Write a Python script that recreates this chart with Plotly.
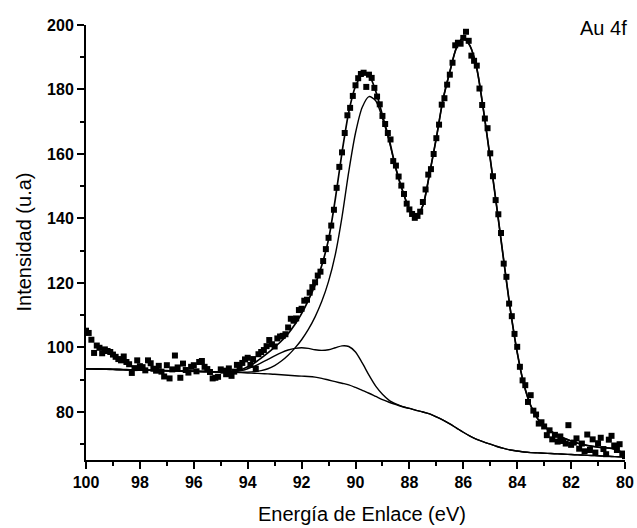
import numpy as np
import plotly.graph_objects as go

# Measured Au 4f spectrum: binding energy (eV) from 100.0 down to 80.0 in 0.1 eV steps
energy_data = np.round(np.arange(100.0, 79.95, -0.1), 1)
counts = [
    105.2, 104.5, 102.4, 98.3, 100.6, 99.9, 98.2, 99.4, 98.9, 98.6,
    97.8, 97.1, 96.4, 96.0, 97.2, 95.5, 94.8, 92.1, 93.6, 96.0,
    94.2, 93.9, 92.9, 96.0, 95.1, 93.4, 92.8, 94.3, 92.5, 91.0,
    94.5, 90.4, 93.2, 97.5, 93.8, 90.6, 95.0, 93.0, 92.2, 94.0,
    94.5, 92.6, 95.5, 95.8, 94.0, 93.3, 92.4, 90.4, 90.6, 90.9,
    93.2, 92.8, 91.7, 93.5, 91.2, 92.5, 94.6, 93.8, 95.2, 96.3,
    96.8, 94.6, 96.4, 93.4, 97.9, 98.6, 99.2, 100.4, 102.3, 101.0,
    100.3, 102.8, 103.4, 103.6, 104.1, 106.2, 108.9, 108.3, 109.0, 111.6,
    112.0, 114.5, 114.8, 117.0, 118.7, 120.2, 122.3, 123.5, 126.8, 130.5,
    134.0, 137.8, 142.7, 149.5, 156.0, 160.5, 166.5, 172.0, 174.3, 178.0,
    181.3, 183.5, 184.8, 185.2, 180.8, 184.6, 183.6, 180.5, 177.8, 175.4,
    171.8, 169.3, 166.5, 164.5, 157.8, 156.4, 153.0, 150.2, 147.6, 144.6,
    142.8, 141.4, 140.2, 140.8, 142.1, 145.1, 149.0, 153.6, 155.3, 160.0,
    164.9, 169.1, 175.3, 177.3, 181.5, 184.6, 188.3, 193.7, 194.5, 194.2,
    196.0, 197.9, 195.1, 190.5, 188.9, 187.4, 180.3, 175.2, 171.0, 168.0,
    160.2, 153.1, 145.7, 141.3, 135.5, 126.0, 121.9, 113.6, 109.7, 104.2,
    100.2, 94.0, 89.8, 88.3, 83.1, 85.2, 80.4, 79.2, 76.4, 76.8,
    75.5, 72.8, 74.3, 71.5, 72.9, 70.8, 72.4, 71.0, 70.2, 75.9,
    69.8, 70.5, 71.8, 68.6, 70.2, 67.8, 73.0, 68.2, 71.5, 67.4,
    70.3, 72.0, 68.5, 66.9, 71.4, 72.6, 69.6, 68.2, 70.0, 67.1,
    66.3,
]

# Fitted curves sampled every 0.25 eV from 100.0 down to 80.0
energy_fit = np.round(np.arange(100.0, 79.99, -0.25), 2)

background = [
    93.4, 93.35, 93.3, 93.25, 93.2, 93.15, 93.1, 93.05, 93.0, 92.95,
    92.9, 92.85, 92.8, 92.75, 92.7, 92.65, 92.6, 92.55, 92.5, 92.45,
    92.4, 92.35, 92.3, 92.2, 92.1, 92.0, 91.9, 91.8, 91.7, 91.55,
    91.4, 91.25, 91.1, 91.0, 90.8, 90.4, 89.9, 89.4, 88.9, 88.4,
    87.6, 86.7, 85.8, 84.8, 83.8, 83.0, 82.3, 81.6, 81.1, 80.5,
    80.0, 79.4, 78.5, 77.5, 76.3, 75.0, 73.7, 72.5, 71.5, 70.7,
    70.0, 69.3, 68.7, 68.2, 67.9, 67.6, 67.4, 67.3, 67.2, 67.1,
    67.0, 66.9, 66.8, 66.7, 66.6, 66.5, 66.4, 66.3, 66.2, 66.1,
    66.0,
]

# Minor doublet component on top of the background
component_minor = [
    93.4, 93.35, 93.3, 93.25, 93.2, 93.15, 93.1, 93.05, 93.0, 92.95,
    92.9, 92.85, 92.8, 92.75, 92.7, 92.65, 92.6, 92.55, 92.5, 92.45,
    92.4, 92.35, 92.5, 92.8, 93.4, 94.2, 95.2, 96.3, 97.4, 98.4,
    99.2, 99.7, 99.9, 99.7, 99.3, 99.1, 99.3, 99.9, 100.5, 100.3,
    98.6, 95.2, 91.4, 88.0, 85.5, 83.6, 82.5, 81.65, 81.1, 80.5,
    80.0, 79.4, 78.5, 77.5, 76.3, 75.0, 73.7, 72.5, 71.5, 70.7,
    70.0, 69.3, 68.7, 68.2, 67.9, 67.6, 67.4, 67.3, 67.2, 67.1,
    67.0, 66.9, 66.8, 66.7, 66.6, 66.5, 66.4, 66.3, 66.2, 66.1,
    66.0,
]

# Main doublet component on top of the background
component_main = [
    93.4, 93.35, 93.3, 93.25, 93.2, 93.15, 93.1, 93.05, 93.0, 92.95,
    92.9, 92.85, 92.8, 92.75, 92.7, 92.65, 92.6, 92.55, 92.5, 92.45,
    92.4, 92.35, 92.3, 92.3, 92.35, 92.5, 92.8, 93.4, 94.4, 95.8,
    97.6, 99.8, 102.4, 105.6, 109.5, 114.3, 120.5, 128.8, 140.5, 154.5,
    166.5, 174.5, 177.8, 176.5, 171.0, 164.0, 155.3, 148.5, 143.0, 140.5,
    144.0, 154.0, 165.0, 177.0, 185.5, 193.0, 196.0, 193.5, 186.5, 173.5,
    158.5, 143.0, 127.0, 111.5, 98.5, 88.5, 82.0, 78.0, 75.5, 74.0,
    72.8, 71.8, 71.0, 70.3, 69.8, 69.4, 69.1, 68.9, 68.7, 68.0,
    67.0,
]

# Total envelope of the fit
envelope = [
    93.4, 93.35, 93.3, 93.25, 93.2, 93.15, 93.1, 93.05, 93.0, 92.95,
    92.9, 92.85, 92.8, 92.75, 92.7, 92.65, 92.6, 92.55, 92.5, 92.45,
    92.4, 92.4, 92.6, 93.1, 94.0, 95.2, 96.7, 98.3, 100.1, 102.0,
    104.3, 107.1, 110.5, 114.6, 119.4, 125.5, 133.5, 146.0, 160.5, 173.0,
    181.0, 184.5, 184.3, 179.5, 172.0, 164.5, 155.5, 148.5, 143.0, 140.5,
    144.0, 154.0, 165.0, 177.0, 185.5, 193.0, 196.0, 193.5, 186.5, 173.5,
    158.5, 143.0, 127.0, 111.5, 98.5, 88.5, 82.0, 78.0, 75.5, 74.0,
    72.8, 71.8, 71.0, 70.3, 69.8, 69.4, 69.1, 68.9, 68.7, 68.0,
    67.0,
]

x_ticks = [100, 98, 96, 94, 92, 90, 88, 86, 84, 82, 80]
y_ticks = [80, 100, 120, 140, 160, 180, 200]

fig = go.Figure()

line_style = dict(color="black", width=1.4, shape="spline", smoothing=0.8)
for curve in (background, component_minor, component_main):
    fig.add_trace(go.Scatter(x=energy_fit, y=curve, mode="lines",
                             line=line_style, hoverinfo="skip"))
fig.add_trace(go.Scatter(x=energy_fit, y=envelope, mode="lines",
                         line=dict(color="black", width=1.7, shape="spline", smoothing=0.8)))
fig.add_trace(go.Scatter(x=energy_data, y=counts, mode="markers",
                         marker=dict(symbol="square", size=6, color="black",
                                     line=dict(width=0))))

axis_common = dict(
    showline=True, linecolor="black", linewidth=2,
    ticks="outside", ticklen=7, tickwidth=1.5, tickcolor="black",
    showgrid=False, zeroline=False, mirror=False, automargin=False,
    tickfont=dict(family="Liberation Sans", size=16, color="black", weight="bold"),
)

title_font = dict(family="Liberation Sans", size=20, color="black")

fig.update_layout(
    width=637, height=528,
    margin=dict(l=86, r=12, t=25, b=68),
    paper_bgcolor="white", plot_bgcolor="white",
    showlegend=False,
    xaxis=dict(
        range=[100, 80], tickvals=x_ticks,
        minor=dict(dtick=1, ticklen=4, tickwidth=1.5, tickcolor="black", ticks="outside"),
        **axis_common,
    ),
    yaxis=dict(
        range=[65.1, 200], tickvals=y_ticks,
        minor=dict(dtick=10, ticklen=4, tickwidth=1.5, tickcolor="black", ticks="outside"),
        **axis_common,
    ),
    annotations=[
        dict(text="Energía de Enlace (eV)", x=0.5, y=0, xref="paper", yref="paper",
             xanchor="center", yanchor="middle", yshift=-54, xshift=6,
             showarrow=False, font=title_font),
        dict(text="Intensidad (u.a)", x=0, y=0.5, xref="paper", yref="paper",
             xanchor="center", yanchor="middle", xshift=-63, textangle=-90,
             showarrow=False, font=title_font),
        dict(text="Au 4f", x=1.0, y=1.0, xref="paper", yref="paper",
             xanchor="right", yanchor="middle", xshift=4, yshift=-3, showarrow=False,
             font=dict(family="Liberation Sans", size=20, color="black")),
    ],
)

fig.write_html("out.html")
